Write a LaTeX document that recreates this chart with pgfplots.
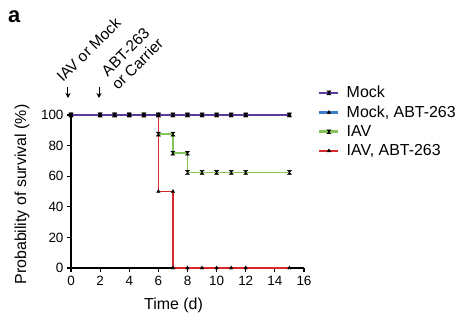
\documentclass[border=0pt]{standalone}
\usepackage{fontspec}
\setmainfont{Liberation Sans}
\usepackage{pgfplots}
\pgfplotsset{compat=1.18}
\usetikzlibrary{arrows.meta}
\definecolor{cmock}{HTML}{5B3A9B}
\definecolor{cmockabt}{HTML}{3E7CC7}
\definecolor{ciav}{HTML}{84C55A}
\definecolor{ciavabt}{HTML}{D62A2A}
\pgfdeclareplotmark{hourglass}{%
 \pgfpathmoveto{\pgfqpoint{-\pgfplotmarksize}{\pgfplotmarksize}}%
 \pgfpathlineto{\pgfqpoint{\pgfplotmarksize}{\pgfplotmarksize}}%
 \pgfpathlineto{\pgfqpoint{-\pgfplotmarksize}{-\pgfplotmarksize}}%
 \pgfpathlineto{\pgfqpoint{\pgfplotmarksize}{-\pgfplotmarksize}}%
 \pgfpathclose
 \pgfusepathqfillstroke}
\begin{document}
\begin{tikzpicture}
\path[use as bounding box] (-71bp,-52bp) rectangle (394bp,268bp);
\begin{axis}[
  at={(0,0)}, anchor=south west,
  scale only axis, width=233bp, height=153bp,
  xmin=0, xmax=16, ymin=0, ymax=100,
  axis lines=left, axis line style={-, line width=1.1bp},
  clip=false,
  xtick={0,2,...,16}, ytick={0,20,...,100},
  tick align=outside, major tick length=4bp,
  tick style={line width=1.1bp, black},
  /pgf/number format/assume math mode=true,
  ticklabel style={font=\fontsize{13.5}{16}\selectfont},
  xticklabel style={yshift=-1bp},
  label style={font=\fontsize{16}{19}\selectfont},
  xlabel={Time (d)}, ylabel={Probability of survival (\%)},
  xlabel style={at={(axis description cs:0.44,-0.242)}, anchor=center},
  ylabel style={at={(axis description cs:-0.21,0.48)}, anchor=center},
  legend style={at={(axis description cs:1.047,1.215)}, anchor=north west,
    draw=none, fill=none, font=\fontsize{16}{19}\selectfont, row sep=2.6bp,
    /tikz/every odd column/.append style={column sep=5bp}},
  legend cell align=left,
  legend image code/.code={\draw[line width=2.6bp, mark repeat=2,mark phase=2] plot coordinates {(0bp,0bp) (9.5bp,0bp) (19bp,0bp)};},
  every axis plot/.append style={line width=1.6bp, mark size=2bp, mark options={solid, fill=black, draw=black, line width=0.4bp}},
]
\addplot[cmock, mark=hourglass] coordinates {(0,100)(2,100)(3,100)(4,100)(5,100)(6,100)(7,100)(8,100)(9,100)(10,100)(11,100)(12,100)(15,100)};
\addlegendentry{Mock}
\addplot[cmockabt, mark=triangle*] coordinates {(0,100)(2,100)(3,100)(4,100)(5,100)(6,100)(7,100)(8,100)(9,100)(10,100)(11,100)(12,100)(15,100)};
\addlegendentry{Mock, ABT-263}
\addplot[ciav, mark=hourglass] coordinates {(0,100)(2,100)(3,100)(4,100)(5,100)(6,100)(6,87.5)(7,87.5)(7,75)(8,75)(8,62.5)(9,62.5)(10,62.5)(11,62.5)(12,62.5)(15,62.5)};
\addlegendentry{IAV}
\addplot[ciavabt, mark=triangle*] coordinates {(0,100)(2,100)(3,100)(4,100)(5,100)(6,100)(6,50)(7,50)(7,0)(8,0)(9,0)(10,0)(11,0)(12,0)(15,0)};
\addlegendentry{IAV, ABT-263}
\addplot[cmock, mark=hourglass, forget plot] coordinates {(0,100)(2,100)(3,100)(4,100)(5,100)(6,100)(7,100)(8,100)(9,100)(10,100)(11,100)(12,100)(15,100)};
\end{axis}
\draw[line width=1bp, -{Stealth[length=5bp,width=5bp]}] (-3bp,181bp) -- (-3bp,170bp);
\draw[line width=1bp, -{Stealth[length=5bp,width=5bp]}] (28bp,181bp) -- (28bp,170bp);
\node[rotate=45, anchor=base west, inner sep=0pt, font=\fontsize{15.5}{18}\selectfont] at (-8bp,185bp) {IAV or Mock};
\node[rotate=45, anchor=base west, inner sep=0pt, align=center, font=\fontsize{15.5}{17}\selectfont] at (47bp,177bp) {ABT-263\\or Carrier};
\node[anchor=base west, inner sep=0pt, font=\fontsize{22}{26}\bfseries] at (-63bp,245bp) {a};
\end{tikzpicture}
\end{document}
